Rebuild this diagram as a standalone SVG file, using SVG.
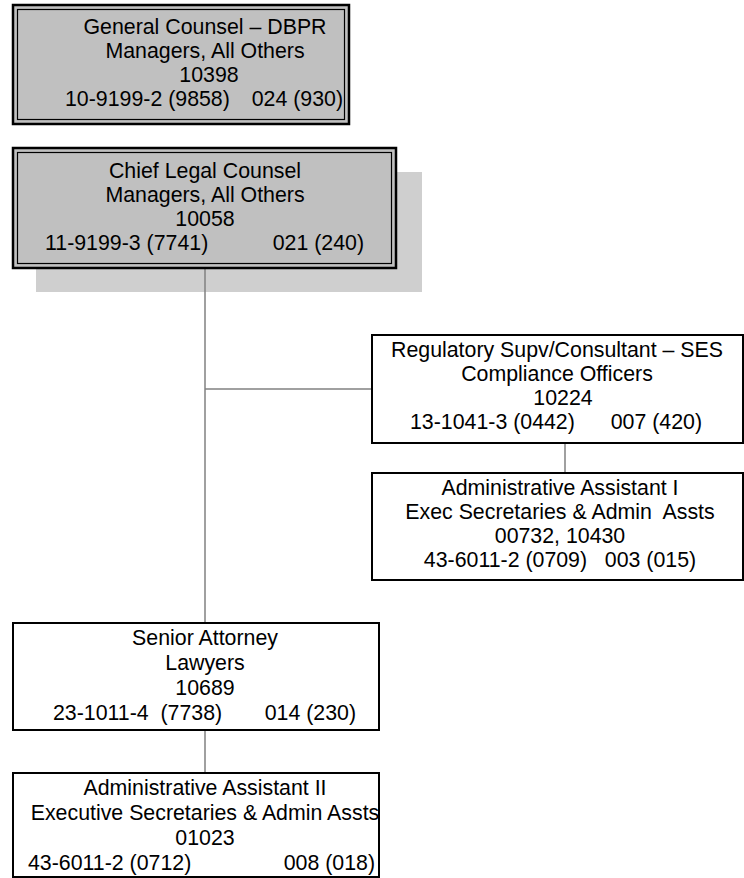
<svg xmlns="http://www.w3.org/2000/svg" width="744" height="878" viewBox="0 0 744 878">
  <style>
    text { font-family: "Liberation Sans", Arial, sans-serif; font-size: 21.33px; fill: #000; }
    .c { text-anchor: middle; }
    .e { text-anchor: end; }
    .box { fill: #fff; stroke: #000; stroke-width: 2; }
    .gbox { fill: #c0c0c0; stroke: #000; stroke-width: 2.5; }
    .inner { fill: none; stroke: #000; stroke-width: 1.2; }
    .link { stroke: #808080; stroke-width: 1.5; fill: none; }
  </style>

  <!-- drop shadow behind Chief Legal Counsel -->
  <rect x="36" y="172" width="386" height="120" fill="#cfcfcf"/>

  <g id="connectors">
    <line class="link" x1="205" y1="268" x2="205" y2="623"/>
    <line class="link" x1="205" y1="389" x2="372" y2="389"/>
    <line class="link" x1="565" y1="443" x2="565" y2="473"/>
    <line class="link" x1="205" y1="730" x2="205" y2="773"/>
  </g>

  <g id="general-counsel">
    <rect class="gbox" x="13" y="5" width="336" height="119"/>
    <rect class="inner" x="17.5" y="9.5" width="327" height="110"/>
    <text class="c" x="205" y="34">General Counsel – DBPR</text>
    <text class="c" x="205" y="58">Managers, All Others</text>
    <text class="c" x="209" y="82">10398</text>
    <text x="65" y="106">10-9199-2 (9858)</text>
    <text class="e" x="343" y="106">024 (930)</text>
  </g>

  <g id="chief-legal-counsel">
    <rect class="gbox" x="13" y="148" width="383" height="120"/>
    <rect class="inner" x="17.5" y="152.5" width="374" height="111"/>
    <text class="c" x="205" y="178">Chief Legal Counsel</text>
    <text class="c" x="205" y="202">Managers, All Others</text>
    <text class="c" x="205" y="226">10058</text>
    <text x="45" y="250">11-9199-3 (7741)</text>
    <text class="e" x="364" y="250">021 (240)</text>
  </g>

  <g id="regulatory-supv">
    <rect class="box" x="372" y="335" width="371" height="108"/>
    <text class="c" x="557" y="357">Regulatory Supv/Consultant – SES</text>
    <text class="c" x="557" y="381">Compliance Officers</text>
    <text class="c" x="563" y="405">10224</text>
    <text x="410" y="429">13-1041-3 (0442)</text>
    <text class="e" x="702" y="429">007 (420)</text>
  </g>

  <g id="admin-assistant-1">
    <rect class="box" x="372" y="473" width="371" height="107"/>
    <text class="c" x="560" y="495">Administrative Assistant I</text>
    <text class="c" x="560" y="519" xml:space="preserve">Exec Secretaries &amp; Admin  Assts</text>
    <text class="c" x="560" y="543">00732, 10430</text>
    <text class="c" x="560" y="567" xml:space="preserve">43-6011-2 (0709)   003 (015)</text>
  </g>

  <g id="senior-attorney">
    <rect class="box" x="13" y="623" width="366" height="107"/>
    <text class="c" x="205" y="645">Senior Attorney</text>
    <text class="c" x="205" y="670">Lawyers</text>
    <text class="c" x="205" y="695">10689</text>
    <text x="53" y="720" xml:space="preserve">23-1011-4  (7738)</text>
    <text class="e" x="356" y="720">014 (230)</text>
  </g>

  <g id="admin-assistant-2">
    <rect class="box" x="13" y="773" width="366" height="104"/>
    <text class="c" x="205" y="795">Administrative Assistant II</text>
    <text class="c" x="205" y="820">Executive Secretaries &amp; Admin Assts</text>
    <text class="c" x="205" y="845">01023</text>
    <text x="28" y="870">43-6011-2 (0712)</text>
    <text class="e" x="375" y="870">008 (018)</text>
  </g>
</svg>
